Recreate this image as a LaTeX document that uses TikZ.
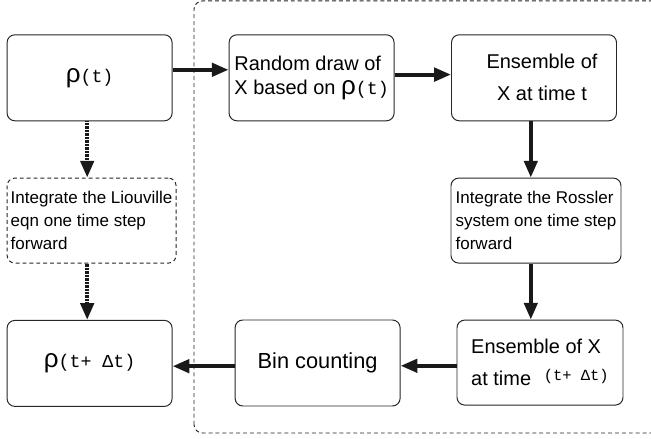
\documentclass[tikz,border=0pt]{standalone}
\usepackage{fontspec}
\setmainfont{Liberation Sans}
\newfontfamily\monof{Liberation Mono}
\usetikzlibrary{arrows.meta,positioning}
\newcommand\rhoarg[1]{{\fontsize{18.5}{18}\selectfont ρ}{\monof\fontsize{13}{18}\selectfont #1}}
\tikzset{
  blokk/.style={draw=black!85,line width=0.7pt,rounded corners=5.5pt,align=left,inner sep=2pt,
                minimum width=4.125cm,minimum height=2.15cm,font=\fontsize{14.2}{16.8}\selectfont},
  kisblokk/.style={blokk,minimum height=2.125cm,font=\fontsize{12.1}{16.4}\selectfont},
  szblokk/.style={kisblokk,dash pattern=on 2.8pt off 2.1pt},
  nyil/.style={-{Triangle[length=4.2mm,width=3.3mm]},line width=2.8pt,black!90},
  pnyil/.style={nyil,dash pattern=on 0.5pt off 0.5pt},
  keret/.style={draw=black!85,line width=0.7pt,dash pattern=on 2.8pt off 2.1pt,rounded corners=6pt},
}
\begin{document}
\begin{tikzpicture}
  \useasboundingbox (0,0) rectangle (16.275,10.975);
  \clip (0,0) rectangle (16.275,10.975);
  % mintavetelezes kerete
  \draw[keret] (4.85,0.15) rectangle (17,10.95);
  % felso sor
  \node[blokk] (rt) at (2.24,9.03) {\rhoarg{(t)}};
  \node[blokk] (rd) at (7.79,9.03) {Random draw of\\X based on \rhoarg{(t)}};
  \node[blokk,align=center] (et) at (13.35,9.03)
    {\hspace*{0.4cm}Ensemble of\\[6pt]\hspace*{0.4cm}X at time t};
  % kozepso sor
  \node[szblokk,minimum width=4.225cm] (li) at (2.29,5.46)
    {Integrate the Liouville\\eqn one time step\\forward};
  \node[kisblokk,minimum width=4.25cm] (rs) at (13.4,5.46)
    {Integrate the Rossler\\system one time step\\forward};
  % also sor
  \node[blokk] (rn) at (2.24,1.89) {\rhoarg{(t+ Δt)}};
  \node[blokk,align=center,font=\fontsize{15.5}{18}\selectfont] (bc) at (7.94,1.9) {Bin counting};
  \node[blokk,minimum width=4.15cm,minimum height=2.125cm] (e2) at (13.5,1.91)
    {Ensemble of X\\[6pt]at time\hspace{9pt}\raisebox{3.5pt}{\monof\fontsize{11}{12}\selectfont (t+ Δt)}};
  % nyilak
  \draw[nyil] ([yshift=0.2cm]rt.east) -- ([yshift=0.2cm]rd.west);
  \draw[nyil] ([yshift=0.08cm]rd.east) -- ([yshift=0.08cm]et.west);
  \draw[nyil] ([xshift=-0.08cm]et.south) -- ([xshift=-0.08cm]et.south |- rs.north);
  \draw[nyil] ([xshift=-0.08cm]et.south |- rs.south) -- ([xshift=-0.08cm]et.south |- e2.north);
  \draw[nyil] ([yshift=-0.08cm]e2.west) -- ([yshift=-0.08cm]e2.west -| bc.east);
  \draw[nyil] ([yshift=-0.08cm]bc.west) -- ([yshift=-0.08cm]bc.west -| rn.east);
  \draw[pnyil] ([xshift=-0.06cm]rt.south) -- ([xshift=-0.06cm]rt.south |- li.north);
  \draw[pnyil] ([xshift=-0.06cm]rt.south |- li.south) -- ([xshift=-0.06cm]rt.south |- rn.north);
\end{tikzpicture}
\end{document}
